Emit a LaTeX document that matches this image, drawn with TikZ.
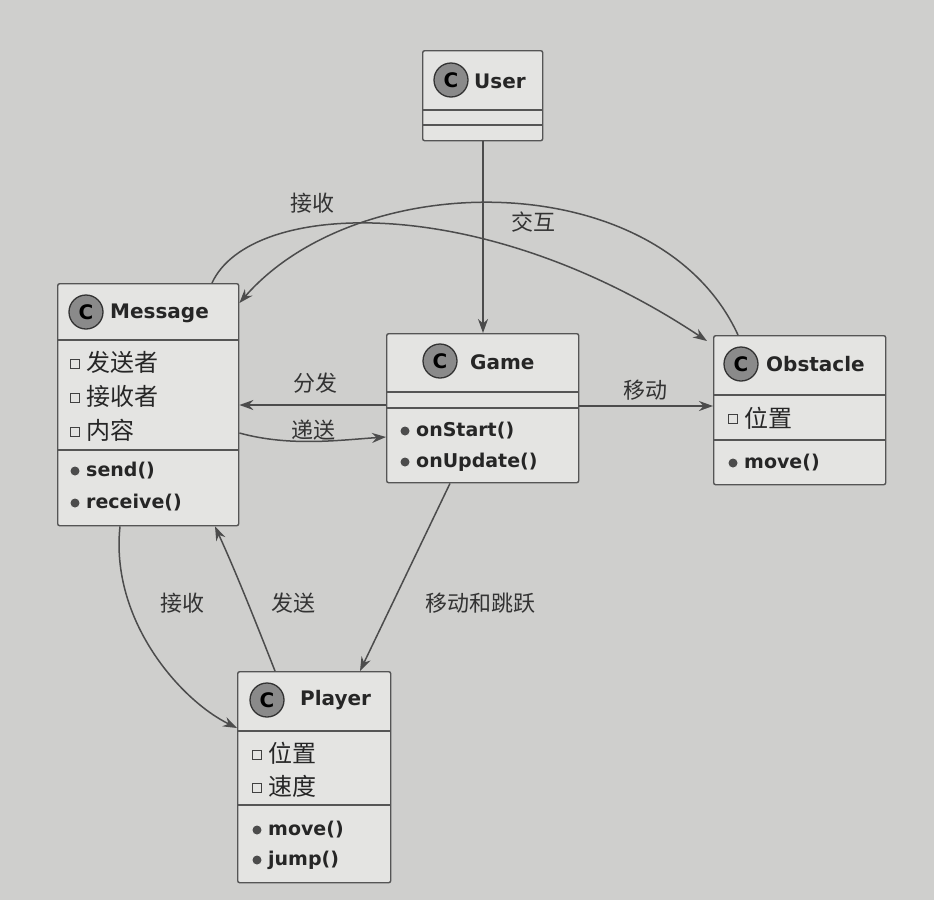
\documentclass[tikz,border=0pt]{standalone}
\usepackage{fontspec}
\setmainfont{DejaVu Sans}
\newfontfamily\cjk{Noto Sans CJK SC}
\usetikzlibrary{arrows.meta,calc}
\definecolor{bg}{HTML}{CFCFCD}
\definecolor{boxf}{HTML}{E4E4E2}
\definecolor{edge}{HTML}{555555}
\definecolor{ic}{HTML}{8A8A8A}
\tikzset{
 cls/.style={draw=edge,fill=boxf,line width=1.4pt,rounded corners=2pt,inner sep=0pt,anchor=north west},
 cname/.style={font=\bfseries\fontsize{20}{24}\selectfont,text=black!85,anchor=west,inner sep=0pt},
 attr/.style={font=\cjk\fontsize{24}{28}\selectfont,text=black!85,anchor=west,inner sep=0pt},
 meth/.style={font=\bfseries\fontsize{19}{22}\selectfont,text=black!85,anchor=west,inner sep=0pt},
 lbl/.style={font=\cjk\fontsize{22}{26}\selectfont,text=black!80},
 sep/.style={draw=edge,line width=1.2pt},
 conn/.style={draw=black!70,line width=1.5pt,-{Stealth[length=14pt,width=10pt]}},
}
\newcommand{\cicon}[1]{\node[circle,draw=black!80,fill=ic,line width=1.3pt,minimum size=34pt,inner sep=0pt,font=\bfseries\fontsize{20}{24}\selectfont] at (#1) {C};}
\newcommand{\asq}[1]{\draw[black!75,line width=1.1pt] ($(#1)+(-4.5,-4.5)$) rectangle ($(#1)+(4.5,4.5)$);}
\newcommand{\mdot}[1]{\fill[black!70] (#1) circle (4.5);}
\begin{document}
\begin{tikzpicture}[x=1pt,y=-1pt]
\useasboundingbox (0,0) rectangle (934,900);
\fill[bg] (0,0) rectangle (934,900);
% User
\node[cls,minimum width=120pt,minimum height=90pt] (user) at (422,50) {};
\draw[sep] (422,110)--(542,110); \draw[sep] (422,125)--(542,125);
\cicon{451,80}\node[cname] at (474,81) {User};
% Message
\node[cls,minimum width=181pt,minimum height=242pt] (msg) at (57,283) {};
\draw[sep] (57,340)--(238,340); \draw[sep] (57,450)--(238,450);
\cicon{86,312}\node[cname] at (110,313) {Message};
\asq{75,364}\node[attr] at (86,362) {发送者};
\asq{75,398}\node[attr] at (86,396) {接收者};
\asq{75,432}\node[attr] at (86,430) {内容};
\mdot{75,471}\node[meth] at (86,471) {send()};
\mdot{75,503}\node[meth] at (86,503) {receive()};
% Game
\node[cls,minimum width=192pt,minimum height=149pt] (game) at (386,333) {};
\draw[sep] (386,392)--(578,392); \draw[sep] (386,408)--(578,408);
\cicon{440,361}\node[cname] at (470,362) {Game};
\mdot{405,431}\node[meth] at (416,431) {onStart()};
\mdot{405,462}\node[meth] at (416,462) {onUpdate()};
% Obstacle
\node[cls,minimum width=172pt,minimum height=149pt] (obs) at (713,335) {};
\draw[sep] (713,395)--(885,395); \draw[sep] (713,440)--(885,440);
\cicon{741,364}\node[cname] at (766,364) {Obstacle};
\asq{733,419}\node[attr] at (744,418) {位置};
\mdot{733,463}\node[meth] at (744,463) {move()};
% Player
\node[cls,minimum width=153pt,minimum height=211pt] (ply) at (237,671) {};
\draw[sep] (237,731)--(390,731); \draw[sep] (237,805)--(390,805);
\cicon{267,700}\node[cname] at (300,700) {Player};
\asq{257,755}\node[attr] at (268,753) {位置};
\asq{257,788}\node[attr] at (268,786) {速度};
\mdot{257,830}\node[meth] at (268,830) {move()};
\mdot{257,860}\node[meth] at (268,860) {jump()};
% connectors
\draw[conn] (user.south -| 483,0) -- (game.north -| 483,0);
\node[lbl] at (533,222) {交互};
\draw[conn] ($(msg.north west)+(155,0)$) .. controls (250,200) and (480,190) .. ($(obs.north west)+(-6,6)$);
\draw[conn] ($(obs.north west)+(25,0)$) .. controls (660,165) and (360,165) .. ($(msg.north east)+(0,20)$);
\node[lbl] at (312,203) {接收};
\draw[conn] (game.west |- 0,405) -- (msg.east |- 0,405);
\node[lbl] at (315,383) {分发};
\draw[conn] (msg.east |- 0,433) .. controls (290,447) and (340,440) .. (game.west |- 0,437);
\node[lbl] at (313,430) {递送};
\draw[conn] (game.east |- 0,406) -- (obs.west |- 0,406);
\node[lbl] at (645,390) {移动};
\draw[conn] ($(game.south west)+(64,0)$) -- ($(ply.north west)+(123,0)$);
\node[lbl] at (480,603) {移动和跳跃};
\draw[conn] ($(msg.south west)+(63,0)$) .. controls (110,620) and (180,700) .. ($(ply.north west)+(0,57)$);
\node[lbl] at (182,603) {接收};
\draw[conn] ($(ply.north west)+(38,0)$) .. controls (255,620) and (235,570) .. ($(msg.south west)+(158,0)$);
\node[lbl] at (293,603) {发送};
\end{tikzpicture}
\end{document}
